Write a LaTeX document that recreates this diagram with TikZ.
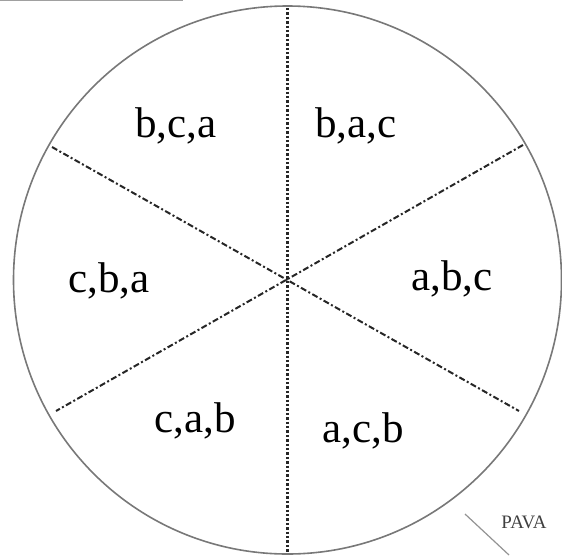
\documentclass[tikz,border=0pt]{standalone}
\usepackage{fontspec}
\setmainfont{Liberation Serif}
\usepackage{tikz}
\usetikzlibrary{calc,positioning}
\definecolor{rim}{RGB}{120,120,120}

\begin{document}
\begin{tikzpicture}[x=1pt,y=-1pt,
     perm/.style={anchor=base,inner sep=0pt,font=\fontsize{43}{43}\selectfont},
     vsplit/.style={line width=2.6pt,dash pattern=on 2.4pt off 2pt},
     dsplit/.style={line width=2pt,dash pattern=on 6pt off 2.5pt on 2pt off 2.5pt}]
   \useasboundingbox (0,0) rectangle (562,555);
   \draw[rim!70,line width=1.5pt] (0,0.5) -- (183,0.5);
   \coordinate (o) at (287.5,280);
   \draw[rim,line width=1.6pt] (o) circle (274);
   % cuts between the six orders
   \coordinate (top) at (287.5,8); \coordinate (bot) at (287.5,552);
   \coordinate (ul) at (52,147); \coordinate (lr) at (519,411);
   \coordinate (ur) at (523,145); \coordinate (ll) at (56,411);
   \draw[vsplit,black!85] (top) -- (bot);
   \draw[dsplit,black!85] (ul) -- (lr);
   \draw[dsplit,black!85] (ur) -- (ll);
   \node[perm] (bca) at (176,137) {b,c,a};
   \node[perm] (bac) at (356,137) {b,a,c};
   \node[perm] (cba) at (109,292) {c,b,a};
   \node[perm] (abc) at (452,290) {a,b,c};
   \node[perm] (cab) at (195,432) {c,a,b};
   \node[perm] (acb) at (363,442) {a,c,b};
   % corner mark
   \coordinate (m1) at (465,514); \coordinate (m2) at (509,555);
   \draw[rim!80,line width=1.2pt] (m1) -- (m2);
   \node[anchor=base,inner sep=0pt,text=black!75,font=\fontsize{19}{19}\selectfont] (pava) at (524,528) {PAVA};
  \end{tikzpicture}
\end{document}
